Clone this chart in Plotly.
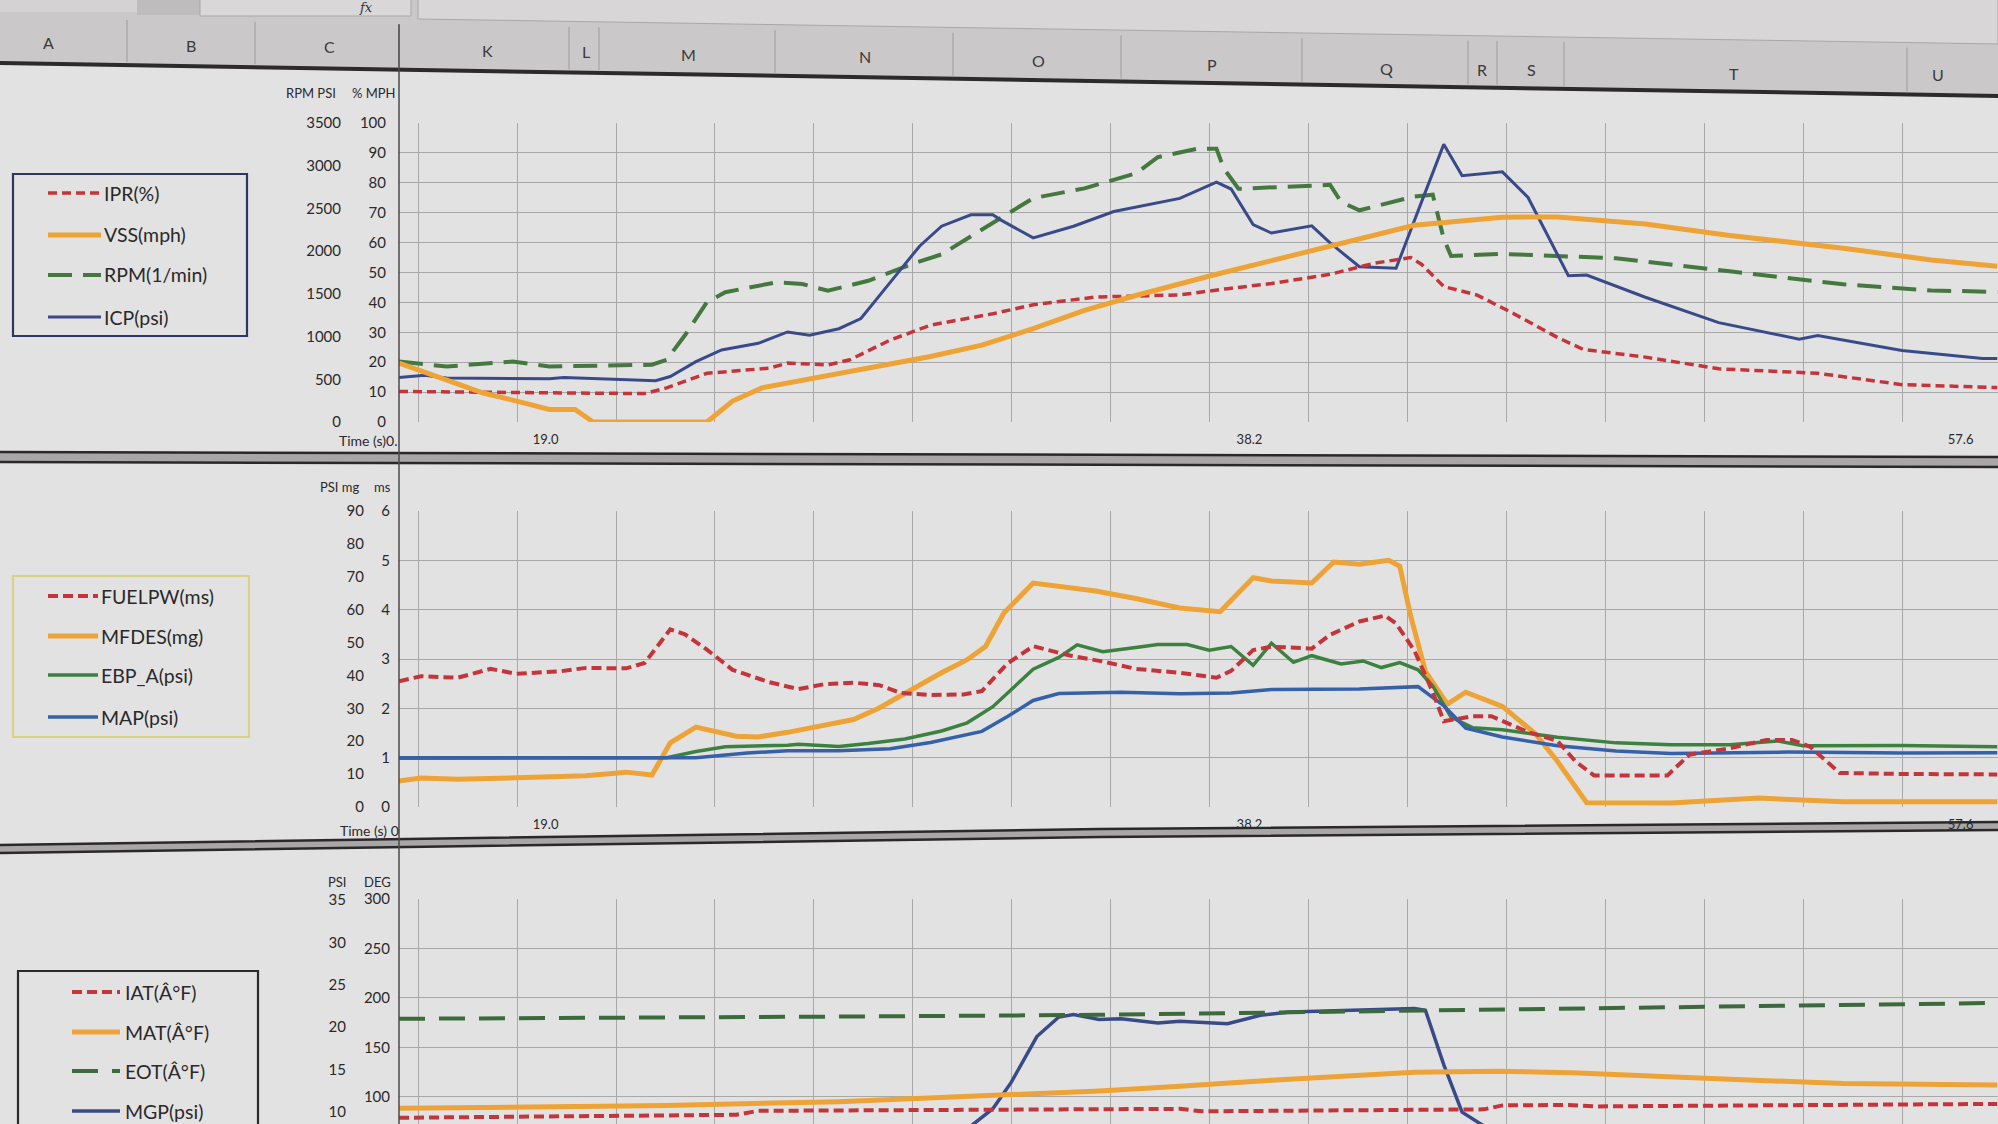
import plotly.graph_objects as go

W, H = 1998, 1124

# ------------------------------------------------------------------ data
time_tick_vals = [19.0, 38.2, 57.6]
time_tick_text = ["19.0", "38.2", "57.6"]

rpm_psi_ticks = [0, 500, 1000, 1500, 2000, 2500, 3000, 3500]
pct_mph_ticks = [0, 10, 20, 30, 40, 50, 60, 70, 80, 90, 100]
psi_mg_ticks = [0, 10, 20, 30, 40, 50, 60, 70, 80, 90]
ms_ticks = [0, 1, 2, 3, 4, 5, 6]
psi_ticks_3 = [10, 15, 20, 25, 30, 35]
deg_ticks = [100, 150, 200, 250, 300]

top_names = ["IPR(%)", "VSS(mph)", "RPM(1/min)", "ICP(psi)"]
mid_names = ["FUELPW(ms)", "MFDES(mg)", "EBP_A(psi)", "MAP(psi)"]
bot_names = ["IAT(Â°F)", "MAT(Â°F)", "EOT(Â°F)", "MGP(psi)"]
column_letters = ["A", "B", "C", "K", "L", "M", "N", "O", "P", "Q", "R", "S", "T", "U"]

# chart 1
ipr_t = [15.0, 18.0, 21.7, 22.3, 23.4, 25.1, 25.6, 26.7, 27.3, 28.4, 29.5, 31.2, 32.3, 34.0, 36.3, 37.6,
         38.8, 40.4, 41.6, 42.6, 42.9, 43.5, 44.4, 45.4, 46.6, 47.3, 49.0, 51.0, 53.7, 56.0, 58.6]
ipr_pct = [10.2, 9.8, 9.5, 11.4, 16.3, 18.0, 19.7, 19.1, 20.8, 27.4, 32.4, 36.2, 39.2, 41.8, 42.5, 44.6,
           46.3, 49.4, 53.1, 55.0, 52.7, 45.3, 42.5, 36.3, 28.3, 24.3, 21.7, 17.8, 16.3, 12.5, 11.5]

vss_t = [15.0, 16.2, 17.3, 18.4, 19.1, 19.8, 20.3, 23.4, 24.1, 24.9, 26.3, 27.7, 29.5, 30.9, 32.3, 33.7,
         35.1, 37.3, 40.4, 42.7, 45.1, 46.6, 49.0, 51.3, 54.4, 56.8, 58.6]
vss_mph = [19.7, 14.7, 9.7, 6.4, 4.2, 4.2, 0.0, 0.0, 7.0, 11.4, 14.7, 18.0, 21.9, 25.7, 31.2, 37.3,
           42.3, 49.4, 58.7, 65.8, 68.5, 68.6, 66.2, 62.4, 58.1, 54.2, 52.1]

rpm_t = [15.0, 16.3, 18.1, 19.1, 21.9, 22.3, 22.8, 23.4, 23.9, 25.3, 26.0, 26.7, 27.8, 29.1, 29.8, 31.2,
         32.3, 33.7, 35.1, 35.7, 36.8, 37.3, 37.5, 37.9, 40.4, 40.7, 41.2, 42.7, 43.2, 43.5, 43.7, 45.1,
         48.2, 51.3, 54.4, 56.8, 58.6]
rpm_val = [707, 650, 707, 650, 670, 728, 1015, 1403, 1519, 1636, 1615, 1537, 1653, 1865, 1962, 2330,
           2620, 2735, 2910, 3100, 3200, 3200, 2968, 2730, 2776, 2576, 2478, 2640, 2660, 2144, 1943, 1968,
           1916, 1764, 1612, 1540, 1523]

icp_t = [15.0, 15.7, 16.3, 19.1, 19.5, 22.0, 22.4, 23.1, 23.8, 24.8, 25.6, 26.2, 27.0, 27.6, 28.4, 29.2,
         29.8, 30.6, 31.2, 31.4, 32.3, 33.4, 34.5, 36.3, 37.3, 37.7, 38.3, 38.8, 39.9, 40.4, 41.2, 42.2,
         42.9, 43.5, 44.0, 45.1, 45.8, 46.9, 47.4, 49.0, 51.0, 53.2, 53.7, 56.0, 58.2, 58.6]
icp_psi = [521, 546, 515, 507, 521, 483, 532, 707, 844, 921, 1054, 1015, 1092, 1211, 1635, 2058,
           2292, 2426, 2426, 2369, 2156, 2292, 2464, 2618, 2808, 2727, 2310, 2212, 2296, 2096, 1817, 1799,
           2583, 3250, 2884, 2928, 2628, 1713, 1720, 1460, 1163, 969, 1012, 836, 742, 742]

# chart 2
fpw_t = [15.0, 15.6, 16.6, 17.5, 18.2, 19.4, 20.1, 21.2, 21.7, 22.4, 22.8, 23.4, 24.1, 25.1, 25.9, 26.6,
         27.4, 28.1, 28.7, 29.5, 30.4, 30.9, 31.6, 32.3, 33.3, 34.2, 35.1, 36.3, 37.3, 37.7, 38.3, 38.8,
         39.9, 40.4, 41.2, 41.9, 42.2, 42.7, 43.2, 43.5, 44.3, 44.8, 45.8, 46.6, 47.1, 47.6, 49.6, 50.2,
         51.3, 52.3, 53.0, 53.5, 54.3, 56.0, 58.6]
fpw_ms = [2.55, 2.65, 2.62, 2.80, 2.70, 2.75, 2.82, 2.81, 2.92, 3.60, 3.50, 3.19, 2.78, 2.53, 2.39, 2.49,
          2.52, 2.47, 2.31, 2.27, 2.28, 2.35, 2.91, 3.26, 3.07, 2.95, 2.80, 2.72, 2.62, 2.76, 3.18, 3.25,
          3.21, 3.49, 3.76, 3.88, 3.72, 3.17, 2.33, 1.74, 1.84, 1.84, 1.52, 1.34, 0.92, 0.64, 0.64, 1.06,
          1.19, 1.36, 1.36, 1.22, 0.69, 0.67, 0.66]

mfd_t = [15.0, 15.6, 16.6, 18.7, 20.1, 21.2, 21.9, 22.4, 23.1, 24.2, 24.8, 25.6, 26.6, 27.4, 28.1, 28.7,
         29.8, 30.5, 31.0, 31.5, 32.3, 34.0, 35.1, 36.3, 37.4, 38.3, 38.8, 39.9, 40.5, 41.2, 42.0, 42.3,
         42.6, 43.0, 43.6, 44.1, 45.1, 46.0, 46.6, 47.4, 49.7, 52.1, 54.4, 58.6]
mfd_mg = [7.9, 8.8, 8.4, 9.1, 9.5, 10.6, 9.7, 19.5, 24.3, 21.5, 21.3, 22.7, 24.7, 26.6, 30.1, 33.9,
          40.8, 44.8, 48.8, 59.0, 68.1, 65.7, 63.4, 60.5, 59.4, 69.7, 68.7, 68.1, 74.5, 73.8, 75.0, 73.2,
          58.0, 41.2, 31.3, 34.9, 30.6, 22.3, 13.9, 1.3, 1.2, 2.7, 1.6, 1.6]

ebp_t = [15.0, 22.3, 23.1, 23.9, 25.6, 25.9, 27.0, 27.8, 28.8, 29.8, 30.5, 31.2, 32.3, 33.0, 33.5, 34.2,
         35.1, 35.7, 36.5, 37.1, 37.7, 38.3, 38.8, 39.4, 39.9, 40.7, 41.3, 41.8, 42.3, 42.8, 43.2, 43.7,
         44.3, 45.1, 46.6, 48.2, 49.7, 51.3, 52.6, 53.3, 56.0, 58.6]
ebp_psi = [14.8, 15.0, 16.9, 18.3, 18.8, 19.1, 18.4, 19.3, 20.7, 23.1, 25.6, 30.5, 41.9, 45.5, 49.3, 47.2,
           48.5, 49.4, 49.4, 47.7, 48.8, 43.1, 49.8, 44.0, 46.0, 43.5, 44.4, 42.4, 43.9, 41.7, 36.8, 27.3,
           24.1, 23.5, 21.2, 19.5, 18.9, 18.9, 20.1, 18.6, 18.7, 18.3]

map_t = [15.0, 23.1, 24.5, 25.6, 27.0, 28.4, 29.5, 30.9, 31.6, 32.3, 33.0, 34.7, 36.3, 37.7, 38.8, 41.2,
         42.8, 43.5, 44.1, 45.1, 46.6, 48.2, 49.7, 52.9, 56.0, 58.6]
map_psi = [15.0, 15.0, 16.4, 17.1, 17.1, 17.7, 19.6, 23.0, 27.5, 32.4, 34.5, 34.9, 34.4, 34.7, 35.7, 35.9,
           36.6, 30.8, 24.0, 21.3, 18.6, 17.0, 16.3, 16.7, 16.4, 16.5]

# chart 3
iat_t = [15.0, 20.0, 24.2, 24.8, 28.4, 34.1, 36.3, 36.9, 43.5, 44.6, 45.1, 46.9, 47.7, 51.3, 58.6]
iat_deg = [79, 81, 82, 86, 86.5, 87, 88, 85.5, 86.5, 87.5, 91.5, 92, 90.5, 91.5, 93]

mat_t = [15.0, 18.7, 22.3, 27.0, 30.4, 32.6, 34.1, 36.3, 38.8, 42.7, 45.0, 47.0, 48.2, 51.3, 54.4, 58.6]
mat_deg = [88.5, 90.4, 91.4, 95.3, 100.0, 103.0, 106.0, 110.8, 116.9, 125.0, 126.0, 124.5, 122.4, 118.0,
           113.5, 112.1]

eot_t = [15.0, 21.4, 28.4, 34.1, 36.1, 38.0, 43.5, 49.7, 58.6]
eot_deg = [179, 180, 181.5, 183, 184, 185, 188, 191, 195]

mgp_t = [30.2, 30.5, 31.2, 31.7, 32.4, 33.0, 33.4, 34.1, 34.7, 35.7, 36.3, 37.6, 38.5, 39.3, 41.9, 42.7,
         43.0, 43.5, 44.0, 44.8, 45.4]
mgp_psi = [7.0, 8.0, 10.4, 13.5, 18.9, 21.2, 21.5, 20.9, 21.0, 20.5, 20.7, 20.4, 21.4, 21.8, 22.1, 22.2,
           22.0, 15.6, 10.0, 7.8, 6.5]

# ------------------------------------------------------------------ styles
FONT = "Lato, 'Open Sans', sans-serif"
TXT = "#2a292a"
GRID = "#a9a8a9"
BG = "#e3e2e3"
RED = "#c4353b"
ORANGE = "#eda336"
RGREEN = "#44783f"
NAVY = "#394a88"
EGREEN = "#3d8140"
BLUE = "#3461a8"
EOTG = "#3c6a3c"

STY = {
    "IPR(%)": dict(color=RED, width=3.5, dash="9px,5px"),
    "VSS(mph)": dict(color=ORANGE, width=5, dash="solid"),
    "RPM(1/min)": dict(color=RGREEN, width=4, dash="24px,11px"),
    "ICP(psi)": dict(color=NAVY, width=3, dash="solid"),
    "FUELPW(ms)": dict(color=RED, width=4, dash="10px,5px"),
    "MFDES(mg)": dict(color=ORANGE, width=5, dash="solid"),
    "EBP_A(psi)": dict(color=EGREEN, width=3.5, dash="solid"),
    "MAP(psi)": dict(color=BLUE, width=3.5, dash="solid"),
    "IAT(Â°F)": dict(color=RED, width=4, dash="10px,5px"),
    "MAT(Â°F)": dict(color=ORANGE, width=5, dash="solid"),
    "EOT(Â°F)": dict(color=EOTG, width=4, dash="26px,14px"),
    "MGP(psi)": dict(color=NAVY, width=3.5, dash="solid"),
}

fig = go.Figure()


def add(t, v, xa, ya, name):
    fig.add_trace(go.Scatter(x=t, y=v, xaxis=xa, yaxis=ya, mode="lines", name=name,
                             line=STY[name], hoverinfo="skip", showlegend=False))


add(ipr_t, ipr_pct, "x", "y2", "IPR(%)")
add(vss_t, vss_mph, "x", "y2", "VSS(mph)")
add(rpm_t, rpm_val, "x", "y", "RPM(1/min)")
add(icp_t, icp_psi, "x", "y", "ICP(psi)")

add(fpw_t, fpw_ms, "x2", "y4", "FUELPW(ms)")
add(mfd_t, mfd_mg, "x2", "y3", "MFDES(mg)")
add(ebp_t, ebp_psi, "x2", "y3", "EBP_A(psi)")
add(map_t, map_psi, "x2", "y3", "MAP(psi)")

add(iat_t, iat_deg, "x3", "y6", "IAT(Â°F)")
add(mat_t, mat_deg, "x3", "y6", "MAT(Â°F)")
add(eot_t, eot_deg, "x3", "y6", "EOT(Â°F)")
add(mgp_t, mgp_psi, "x3", "y5", "MGP(psi)")


# ------------------------------------------------------------------ helpers (pixel -> paper)
def PX(x):
    return x / W


def PY(y):
    return 1 - y / H


shapes = []
annotations = []


def sline(x0, y0, x1, y1, color, width, dash="solid", layer="above"):
    shapes.append(dict(type="line", xref="paper", yref="paper", x0=PX(x0), y0=PY(y0), x1=PX(x1), y1=PY(y1),
                       line=dict(color=color, width=width, dash=dash), layer=layer))


def srect(x0, y0, x1, y1, fill, lc=None, lw=0, layer="below"):
    shapes.append(dict(type="rect", xref="paper", yref="paper", x0=PX(x0), x1=PX(x1), y0=PY(y1), y1=PY(y0),
                       fillcolor=fill, line=dict(color=lc or fill, width=lw), layer=layer))


def spoly(pts, fill, lc=None, lw=0, layer="below"):
    path = "M " + " L ".join(f"{PX(x):.5f},{PY(y):.5f}" for x, y in pts) + " Z"
    shapes.append(dict(type="path", xref="paper", yref="paper", path=path, fillcolor=fill,
                       line=dict(color=lc or fill, width=lw), layer=layer))


def text(x, y, s, size=14, xanchor="center", color=TXT, family=FONT, italic=False):
    annotations.append(dict(xref="paper", yref="paper", x=PX(x), y=PY(y), text=s, showarrow=False,
                            xanchor=xanchor, yanchor="middle",
                            font=dict(size=size, color=color, family=family,
                                      style="italic" if italic else "normal")))


# ------------------------------------------------------------------ spreadsheet chrome
def head_top(x):
    return 13 + x * 0.0155


def head_bot(x):
    return 62 + x * 0.0165


spoly([(0, 0), (W, 0), (W, head_bot(W)), (0, head_bot(0))], "#cac8c9")
srect(0, 0, 137, 12, "#d4d2d3")
srect(137, 0, 200, 15, "#bebcbd")
srect(200, -2, 411, 16, "#d9d7d8", "#a9a7a8", 1)
spoly([(418, -2), (W, -2), (W, head_top(W)), (418, 19)], "#d8d6d7", "#a9a7a8", 1)
text(366, 8, "fx", size=13, family="DejaVu Serif", italic=True, color="#333")
sline(0, head_bot(0) + 1, W, head_bot(W) + 1, "#2c2a2b", 4)

col_sep = [127, 255, 399, 569, 599, 775, 953, 1121, 1302, 1468, 1497, 1564, 1907]
for cx in col_sep:
    sline(cx, head_top(cx) + 5, cx, head_bot(cx) - 2, "#9d9b9c", 1)
col_pos = [(48, 42), (191, 45), (329, 47), (487, 50), (586, 52), (688, 54), (865, 57), (1038, 60),
           (1212, 64), (1386, 68), (1482, 69), (1531, 70), (1734, 73), (1938, 75)]
for letter, (cx, cy) in zip(column_letters, col_pos):
    text(cx, cy, letter, size=16, color="#3c3a3b")

# separators between the chart rows
spoly([(0, 452), (W, 457), (W, 467), (0, 462)], "#a8a6a7")
sline(0, 452, W, 457, "#2a2829", 2.5)
sline(0, 462, W, 467, "#2a2829", 2.5)
spoly([(0, 845), (1100, 829), (W, 822), (W, 830), (1100, 837), (0, 853)], "#a8a6a7")
shapes.append(dict(type="path", xref="paper", yref="paper",
                   path=f"M 0,{PY(845):.5f} L {PX(1100):.5f},{PY(829):.5f} L 1,{PY(822):.5f}",
                   line=dict(color="#2a2829", width=2.5)))
shapes.append(dict(type="path", xref="paper", yref="paper",
                   path=f"M 0,{PY(853):.5f} L {PX(1100):.5f},{PY(837):.5f} L 1,{PY(830):.5f}",
                   line=dict(color="#2a2829", width=2.5)))

# frozen pane divider
sline(399, head_top(399) + 5, 399, H + 2, "#4b494a", 1.5)

# ------------------------------------------------------------------ legends (drawn boxes)
def legend_box(x0, y0, x1, y1, border, names, ys, sx0, sx1, tx):
    srect(x0, y0, x1, y1, "rgba(0,0,0,0)", border, 2.2, layer="above")
    for n, yy in zip(names, ys):
        st = STY[n]
        sline(sx0, yy, sx1, yy, st["color"], st["width"], st["dash"])
        text(tx, yy, n, size=19.5, xanchor="left", color="#2a292a")


legend_box(13, 174, 247, 336, "#2b3764", top_names, [193, 235, 275, 317], 48, 101, 102)
legend_box(13, 576, 249, 737, "#d9d18a", mid_names, [596, 636, 675, 717], 48, 98, 99)
legend_box(18, 971, 258, 1140, "#2b2b2b", bot_names, [992, 1032, 1071, 1111], 72, 120, 123)

# axis headers
text(311, 93, "RPM PSI", size=13)
text(374, 93, "% MPH", size=13)
text(340, 487, "PSI mg", size=13)
text(382, 487, "ms", size=13)
text(337, 882, "PSI", size=13)
text(377, 882, "DEG", size=13)
text(399, 440, "Time (s)0.", size=14, xanchor="right")
text(401, 830, "Time (s) 0", size=14, xanchor="right")

# ------------------------------------------------------------------ axes
X_RANGE = [15.0, 58.62]
TF = dict(family=FONT, size=15, color=TXT)


def xax(anchor, labels=True):
    return dict(domain=[PX(399), 1], range=X_RANGE, anchor=anchor, showgrid=False, zeroline=False,
                showline=False, ticks="", tickmode="array", tickvals=time_tick_vals,
                ticktext=time_tick_text, showticklabels=labels, ticklabelstandoff=8,
                tickfont=dict(family=FONT, size=13, color=TXT), automargin=False, fixedrange=True,
                minor=dict(tickmode="linear", tick0=15.52, dtick=2.70, showgrid=True,
                           gridcolor=GRID, gridwidth=1, ticks=""))


def yax(domain, rng, tickvals, pos, grid, overlay=None):
    d = dict(range=rng, tickmode="array", tickvals=tickvals, anchor="free", position=PX(pos),
             showgrid=grid, gridcolor=GRID, gridwidth=1, zeroline=False, showline=False, ticks="",
             tickfont=TF, automargin=False, fixedrange=True)
    if overlay:
        d["overlaying"] = overlay
    else:
        d["domain"] = domain
    return d


top_dom = [PY(422), PY(123)]
mid_dom = [PY(807), PY(511)]
bot_dom = [0, PY(899)]

fig.update_layout(
    width=W, height=H, autosize=False, template="none",
    margin=dict(l=0, r=0, t=0, b=0, pad=0),
    paper_bgcolor=BG, plot_bgcolor=BG, showlegend=False,
    font=dict(family=FONT, size=14, color=TXT),
    xaxis=xax("y"),
    xaxis2=xax("y3"),
    xaxis3=xax("y5", labels=False),
    yaxis=yax(top_dom, [0, 3500], rpm_psi_ticks, 341, False),
    yaxis2=yax(None, [0, 100], pct_mph_ticks, 386, True, overlay="y"),
    yaxis3=yax(mid_dom, [0, 90], psi_mg_ticks, 364, False),
    yaxis4=yax(None, [0, 6], ms_ticks, 390, True, overlay="y3"),
    yaxis5=yax(bot_dom, [8.6, 35.1], psi_ticks_3, 346, False),
    yaxis6=yax(None, [72.7, 300], deg_ticks, 390, True, overlay="y5"),
    shapes=shapes,
    annotations=annotations,
)

fig.write_html("out.html")
